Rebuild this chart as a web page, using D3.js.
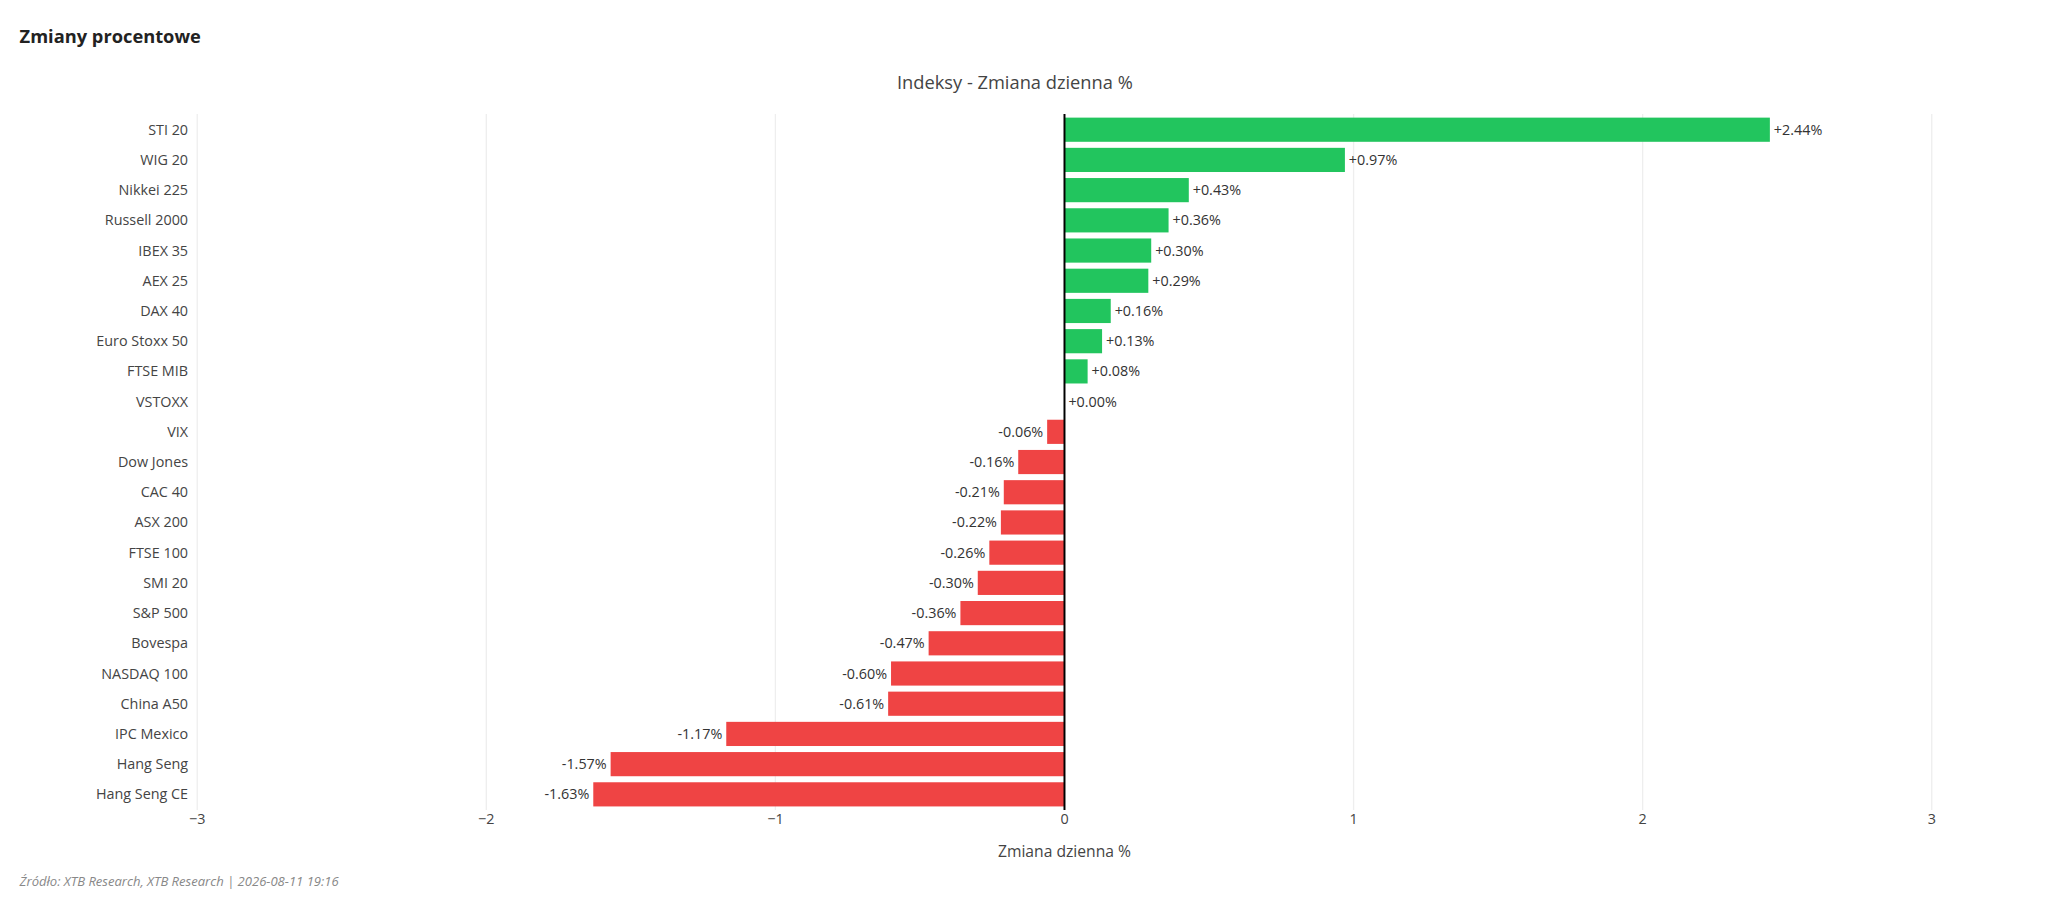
<!DOCTYPE html>
<html>
<head>
<meta charset="utf-8">
<script src="https://cdn.jsdelivr.net/npm/d3@7"></script>
<style>
  body { margin: 0; background: #fff; }
  text { font-family: "Open Sans", "Noto Sans", sans-serif; }
</style>
</head>
<body>
<div id="chart"></div>
<script>
// data
var names = ["STI 20", "WIG 20", "Nikkei 225", "Russell 2000", "IBEX 35", "AEX 25", "DAX 40",
  "Euro Stoxx 50", "FTSE MIB", "VSTOXX", "VIX", "Dow Jones", "CAC 40", "ASX 200", "FTSE 100",
  "SMI 20", "S&P 500", "Bovespa", "NASDAQ 100", "China A50", "IPC Mexico", "Hang Seng", "Hang Seng CE"];
var changes = [2.44, 0.97, 0.43, 0.36, 0.30, 0.29, 0.16, 0.13, 0.08, 0.00, -0.06, -0.16, -0.21,
  -0.22, -0.26, -0.30, -0.36, -0.47, -0.60, -0.61, -1.17, -1.57, -1.63];
var xTicks = [-3, -2, -1, 0, 1, 2, 3];

var W = 1568, H = 697;
var svg = d3.select("#chart").append("svg")
  .attr("width", 2048).attr("height", 911)
  .attr("viewBox", `0 0 ${W} ${H}`);

var x = d3.scaleLinear().domain([-3, 3]).range([151, 1479]);
var y = d3.scaleBand().domain(names).range([87.5, 619.5]).paddingInner(0.2).paddingOuter(0.1);

svg.append("text").attr("x", 15).attr("y", 33)
  .attr("font-size", 14).attr("font-weight", "bold").attr("fill", "#222")
  .text("Zmiany procentowe");

svg.append("text").attr("x", 777).attr("y", 68).attr("text-anchor", "middle")
  .attr("font-size", 14).attr("fill", "#444").text("Indeksy - Zmiana dzienna %");

// gridlines
svg.append("g").selectAll("line").data(xTicks).enter().append("line")
  .attr("x1", d => x(d)).attr("x2", d => x(d))
  .attr("y1", 87).attr("y2", 620)
  .attr("stroke", "#eee").attr("stroke-width", 1);

// bars
svg.append("g").selectAll("rect").data(changes).enter().append("rect")
  .attr("x", d => x(Math.min(0, d)))
  .attr("width", d => Math.abs(x(d) - x(0)))
  .attr("y", (d, i) => y(names[i]))
  .attr("height", y.bandwidth())
  .attr("fill", d => d >= 0 ? "#22c55e" : "#ef4444");

// value labels
svg.append("g").selectAll("text").data(changes).enter().append("text")
  .attr("x", d => d >= 0 ? x(d) + 3 : x(d) - 3)
  .attr("y", (d, i) => y(names[i]) + y.bandwidth() / 2)
  .attr("dy", "0.35em")
  .attr("text-anchor", d => d >= 0 ? "start" : "end")
  .attr("font-size", 11).attr("fill", "#333")
  .text(d => (d >= 0 ? "+" : "") + d.toFixed(2) + "%");

// zero line
svg.append("line").attr("x1", x(0)).attr("x2", x(0)).attr("y1", 87).attr("y2", 620)
  .attr("stroke", "#000").attr("stroke-width", 1.5);

// category labels
svg.append("g").selectAll("text").data(names).enter().append("text")
  .attr("x", 144).attr("y", d => y(d) + y.bandwidth() / 2).attr("dy", "0.35em")
  .attr("text-anchor", "end").attr("font-size", 11).attr("fill", "#444")
  .text(d => d);

// x ticks
svg.append("g").selectAll("text").data(xTicks).enter().append("text")
  .attr("x", d => x(d)).attr("y", 631).attr("text-anchor", "middle")
  .attr("font-size", 11).attr("fill", "#444")
  .text(d => d < 0 ? "\u2212" + Math.abs(d) : d);

svg.append("text").attr("x", 815).attr("y", 656).attr("text-anchor", "middle")
  .attr("font-size", 12).attr("fill", "#444").text("Zmiana dzienna %");

svg.append("text").attr("x", 15).attr("y", 678)
  .attr("font-size", 10).attr("font-style", "italic").attr("fill", "#888")
  .text("Źródło: XTB Research, XTB Research | 2026-08-11 19:16");
</script>
</body>
</html>
